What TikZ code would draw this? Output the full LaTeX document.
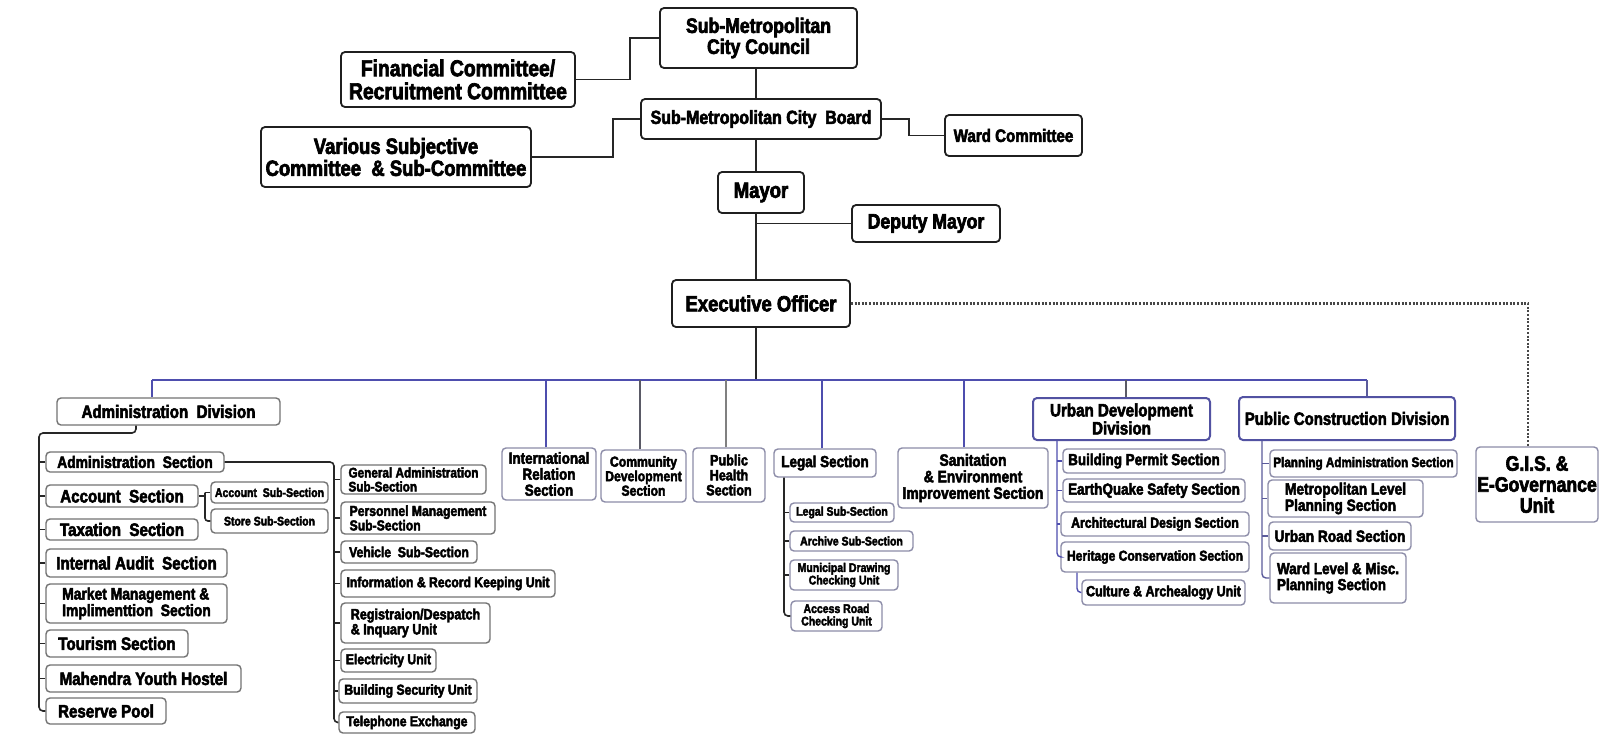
\documentclass[tikz,border=0pt]{standalone}
\usepackage{fontspec}
\newfontfamily\chartfont{Liberation Sans}[FakeStretch=0.84, FakeBold=3]
\newcommand\chsize[1]{\fontsize{#1}{#1}\selectfont}
% box helper: name, style, centre x, centre y, width, height, text
\newcommand\bx[7]{\node[#2, minimum width=#5pt, minimum height=#6pt] (#1) at (#3,#4) {#7};}
\definecolor{busblue}{HTML}{4E4EAE}
\definecolor{secline}{HTML}{8C8CA8}
\definecolor{divblue}{HTML}{5252A2}
\definecolor{dropgray}{HTML}{5A5A66}
\tikzset{
  base/.style={rounded corners=4pt, fill=white, align=center, inner sep=1pt, text=black, line width=1.4pt},
  topbox/.style={base, draw=black!88, line width=1.8pt, font=\chartfont\bfseries\chsize{#1}},
  graybox/.style={base, draw=black!55, font=\chartfont\bfseries\chsize{#1}},
  secbox/.style={base, draw=secline, font=\chartfont\bfseries\chsize{#1}},
  divbox/.style={base, draw=divblue, line width=2pt, font=\chartfont\bfseries\chsize{#1}},
  link/.style={line width=1.6pt, draw=black!85},
  buslink/.style={line width=1.4pt, draw=busblue},
  graylink/.style={line width=1.5pt, draw=dropgray},
  dotlink/.style={line width=2.4pt, draw=black!72, dash pattern=on 2pt off 1.6pt},
}
\begin{document}
\begin{tikzpicture}[x=1pt,y=-1pt]
\useasboundingbox[fill=white] (0,0) rectangle (1600,734);

% ---------- governing bodies ----------
\bx{council}{topbox=21}{758.5}{38}{197}{60}{Sub-Metropolitan\\City Council}
\bx{fin}{topbox=23}{458}{79.5}{234}{55}{Financial Committee/\\Recruitment Committee}
\bx{board}{topbox=19}{761}{119}{240}{40}{Sub-Metropolitan City\ \ Board}
\bx{various}{topbox=22}{396}{157}{270}{60}{Various Subjective\\Committee\ \ \& Sub-Committee}
\bx{ward}{topbox=18}{1013.5}{135.5}{137}{41}{Ward Committee}
\bx{mayor}{topbox=22}{761}{192.5}{86}{41}{Mayor}
\bx{deputy}{topbox=21}{926}{223.5}{148}{37}{Deputy Mayor}
\bx{eo}{topbox=22}{761}{303.5}{178}{47}{Executive Officer}
\bx{gis}{secbox=21}{1537}{484.5}{122}{75}{G.I.S. \&\\E-Governance\\Unit}

\coordinate (spine) at (756,0);
\draw[link] (spine |- council.south) -- (spine |- board.north);
\draw[link] (spine |- board.south) -- (spine |- mayor.north);
\draw[link] (spine |- mayor.south) -- (spine |- eo.north);
\draw[link] (spine |- deputy.west) -- (deputy.west);
\draw[link] (fin.east) -- ++(54,0) |- (council.west);
\draw[link] (various.east) -- ++(81,0) |- (board.west);
\draw[link] (board.east) -- ++(27,0) |- (ward.west);
\draw[dotlink] (eo.east) -| ([xshift=-9pt]gis.north);

% ---------- divisions and sections ----------
\bx{admdiv}{graybox=18}{168.5}{411.5}{223}{27}{Administration\ \ Division}
\bx{intl}{secbox=16}{549}{474}{94}{52}{International\\Relation\\Section}
\bx{comm}{secbox=14.5}{643.5}{476}{85}{52}{Community\\Development\\Section}
\bx{ph}{secbox=15}{729}{475}{72}{54}{Public\\Health\\Section}
\bx{legal}{secbox=16}{825}{463}{102}{28}{Legal Section}
\bx{sanit}{secbox=16.5}{973}{478}{150}{60}{Sanitation\\\&\ Environment\\Improvement Section}
\bx{urban}{divbox=18}{1121.5}{419}{177}{42}{Urban Development\\Division}
\bx{pc}{divbox=17.8}{1347}{418.5}{216}{43}{Public Construction Division}

\coordinate (busL) at (152,380);
\coordinate (busR) at (1367,380);
\draw[link] (spine |- eo.south) -- (spine |- busL);
\draw[buslink] (busL) -- (busR);
\draw[buslink] (busL) -- (busL |- admdiv.north);
\draw[buslink] ([xshift=-3pt]intl.north) -- ([xshift=-3pt]intl.north |- busL);
\draw[graylink] ([xshift=-3.5pt]comm.north) -- ([xshift=-3.5pt]comm.north |- busL);
\draw[graylink, draw=black!50] ([xshift=-3pt]ph.north) -- ([xshift=-3pt]ph.north |- busL);
\draw[buslink] ([xshift=-3pt]legal.north) -- ([xshift=-3pt]legal.north |- busL);
\draw[buslink] ([xshift=-9pt]sanit.north) -- ([xshift=-9pt]sanit.north |- busL);
\draw[graylink] ([xshift=4.5pt]urban.north) -- ([xshift=4.5pt]urban.north |- busL);
\draw[buslink, draw=divblue!80!gray] (busR) -- (busR |- pc.north);

% ---------- administration division ----------
\bx{adms}{graybox=16.5}{135}{462}{178}{20}{Administration\ \ Section}
\bx{acc}{graybox=18}{122}{496}{152}{22}{Account\ \ Section}
\bx{tax}{graybox=18}{122}{529.5}{152}{21}{Taxation\ \ Section}
\bx{audit}{graybox=18}{136.5}{563}{181}{28}{Internal Audit\ \ Section}
\bx{market}{graybox=16.5, align=left}{136.5}{603.5}{181}{39}{Market Management \&\\Implimenttion\ \ Section}
\bx{tour}{graybox=18}{117}{643.5}{142}{27}{Tourism Section}
\bx{mah}{graybox=18}{143.5}{678.5}{195}{27}{Mahendra Youth Hostel}
\bx{res}{graybox=18}{106}{711}{120}{26}{Reserve Pool}

\coordinate (admrail) at (39,433);
\draw[link, rounded corners=4pt] ([xshift=-32.5pt]admdiv.south) |- (admrail) |- (res.west);
\foreach \n in {adms,acc,tax,audit,market,tour,mah}
  \draw[link] (\n.west) -- (admrail |- \n.west);

\bx{accsub}{graybox=12.5}{269.5}{492.5}{117}{21}{Account\ \ Sub-Section}
\bx{store}{graybox=12.5}{269.5}{521}{117}{24}{Store Sub-Section}
\coordinate (accrail) at (205,0);
\draw[link] (acc.east) -- (accrail |- acc.east);
\draw[link] (accsub.west) -- (accrail |- accsub.west);
\draw[link, rounded corners=3pt] (accrail |- accsub.west) |- (store.west);

\bx{gen}{graybox=14, align=left}{413.5}{479.5}{145}{29}{General Administration\\Sub-Section}
\bx{pers}{graybox=14.5, align=left}{418}{518}{154}{32}{Personnel Management\\Sub-Section}
\bx{veh}{graybox=14.5}{409}{552}{136}{22}{Vehicle\ \ Sub-Section}
\bx{info}{graybox=14.5}{448}{583.5}{214}{27}{Information \& Record Keeping Unit}
\bx{reg}{graybox=15, align=left}{415.5}{623}{149}{40}{Registraion/Despatch\\\& Inquary Unit}
\bx{elec}{graybox=14.5}{388.5}{660.5}{95}{23}{Electricity Unit}
\bx{bsec}{graybox=14.5}{408}{691}{138}{24}{Building Security Unit}
\bx{tel}{graybox=14.5}{407}{722.5}{136}{21}{Telephone Exchange}

\coordinate (admsrail) at (334,0);
\draw[link, rounded corners=4pt] (adms.east) -- (admsrail |- adms.east) |- (tel.west);
\foreach \n in {gen,pers,veh,info,reg,elec,bsec}
  \draw[link] (\n.west) -- (admsrail |- \n.west);

% ---------- legal section ----------
\bx{lsub}{secbox=12.5}{842}{512.5}{104}{19}{Legal Sub-Section}
\bx{arch}{secbox=12.5}{851.5}{541}{123}{20}{Archive Sub-Section}
\bx{muni}{secbox=12.5}{844}{575}{108}{30}{Municipal Drawing\\Checking Unit}
\bx{acr}{secbox=12.5}{836.5}{616}{91}{30}{Access Road\\Checking Unit}
\coordinate (legrail) at (784,0);
\draw[link, rounded corners=4pt] (legrail |- legal.south) |- (acr.west);
\foreach \n in {lsub,arch,muni}
  \draw[link] (\n.west) -- (legrail |- \n.west);

% ---------- urban development division ----------
\bx{bp}{secbox=16}{1144}{461}{162}{24}{Building Permit Section}
\bx{eq}{secbox=16}{1154}{490.5}{182}{23}{EarthQuake Safety Section}
\bx{arc}{secbox=14.6}{1155}{524}{188}{24}{Architectural Design Section}
\bx{her}{secbox=14.4}{1155}{557}{188}{30}{Heritage Conservation Section}
\bx{cul}{secbox=14.8}{1163.5}{592.5}{163}{25}{Culture \& Archealogy Unit}
\coordinate (urbrail) at (1057,0);
\draw[buslink, rounded corners=4pt] (urbrail |- urban.south) |- (her.west);
\foreach \n in {bp,eq,arc}
  \draw[buslink] (\n.west) -- (urbrail |- \n.west);
\draw[buslink, rounded corners=4pt] ([xshift=-78pt]her.south) |- (cul.west);

% ---------- public construction division ----------
\bx{pa}{secbox=13.9}{1363.5}{463.5}{187}{27}{Planning Administration Section}
\bx{ml}{secbox=16.3, align=left}{1345.5}{498.5}{155}{37}{Metropolitan Level\\Planning Section}
\bx{ur}{secbox=16.3}{1340}{536}{142}{28}{Urban Road Section}
\bx{wl}{secbox=16, align=left}{1338}{578}{136}{50}{Ward Level \& Misc.\\Planning Section}
\coordinate (pcrail) at (1262,0);
\draw[buslink, draw=divblue!80!gray, rounded corners=4pt] (pcrail |- pc.south) |- (wl.west);
\foreach \n in {pa,ml,ur}
  \draw[buslink, draw=divblue!80!gray] (\n.west) -- (pcrail |- \n.west);
\end{tikzpicture}
\end{document}
